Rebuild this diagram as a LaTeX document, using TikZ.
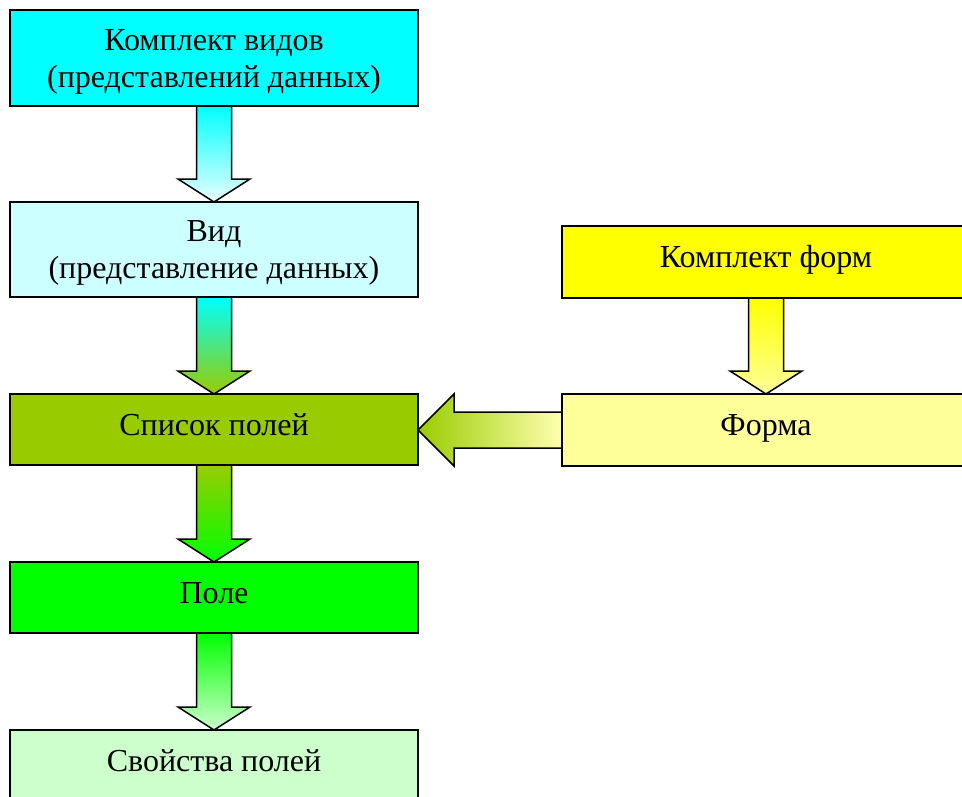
\documentclass[tikz,border=0pt]{standalone}
\usepackage{fontspec}
\setmainfont{Liberation Serif}
\usetikzlibrary{positioning,calc,backgrounds}
\definecolor{kvcol}{RGB}{0,255,255}
\definecolor{vidcol}{RGB}{204,255,255}
\definecolor{spcol}{RGB}{153,204,0}
\definecolor{polecol}{RGB}{0,255,0}
\definecolor{svcol}{RGB}{204,255,204}
\definecolor{kfcol}{RGB}{255,255,0}
\definecolor{formcol}{RGB}{255,255,153}
\definecolor{palecyan}{RGB}{232,255,255}
\definecolor{paleyel}{RGB}{255,255,175}
\tikzset{
  box/.style={draw, line width=1.5pt, outer sep=0, inner sep=0, minimum width=408pt, align=center, font=\fontsize{32}{37}\selectfont},
  oneline/.style={text height=22pt, text depth=11pt},
  fatarrow/.style={draw, line width=1.5pt, line join=miter},
}
\newcommand{\fatdown}[4]{%
  \draw[fatarrow, top color=#3, bottom color=#4] let \p1=(#1.south), \p2=(#2.north) in
    (\x1-17.5pt,\y1) -- (\x1-17.5pt,\y2+23pt) -- (\x1-36pt,\y2+23pt) -- (\x1,\y2) -- (\x1+36pt,\y2+23pt) -- (\x1+17.5pt,\y2+23pt) -- (\x1+17.5pt,\y1) -- cycle;}
\newcommand{\fatleft}[4]{%
  \draw[fatarrow, right color=#3, left color=#4] let \p1=(#1.west), \p2=(#2.east) in
    (\x1,\y1+18pt) -- (\x2+36pt,\y1+18pt) -- (\x2+36pt,\y1+36pt) -- (\x2,\y1) -- (\x2+36pt,\y1-36pt) -- (\x2+36pt,\y1-18pt) -- (\x1,\y1-18pt) -- cycle;}
\begin{document}
\begin{tikzpicture}[x=1pt, y=-1pt]
  \clip (0,0) rectangle (962,796);
  \node [box, fill=kvcol, minimum height=96pt, anchor=north west] (kv) at (10,10) {\rule{0pt}{28pt}Комплект видов\\(представлений данных)};
  \node [box, fill=vidcol, minimum height=95pt, below=96pt of kv] (vid) {\rule{0pt}{28pt}Вид\\(представление данных)};
  \node [box, oneline, fill=spcol, minimum height=71pt, below=97pt of vid] (sp) {Список полей};
  \node [box, oneline, fill=polecol, minimum height=71pt, below=97pt of sp] (pole) {Поле};
  \node [box, oneline, fill=svcol, minimum height=71pt, below=97pt of pole] (sv) {Свойства полей};
  \node [box, oneline, fill=kfcol, minimum height=72pt, anchor=north west] (kf) at (562,226) {Комплект форм};
  \node [box, oneline, fill=formcol, minimum height=72pt, below=96pt of kf] (forma) {Форма};
  \begin{scope}[on background layer]
    \fatdown{kv}{vid}{kvcol}{palecyan}
    \fatdown{vid}{sp}{kvcol}{spcol}
    \fatdown{sp}{pole}{spcol}{polecol}
    \fatdown{pole}{sv}{polecol}{svcol}
    \fatdown{kf}{forma}{kfcol}{formcol}
    \fatleft{forma}{sp}{paleyel}{spcol}
  \end{scope}
\end{tikzpicture}
\end{document}
